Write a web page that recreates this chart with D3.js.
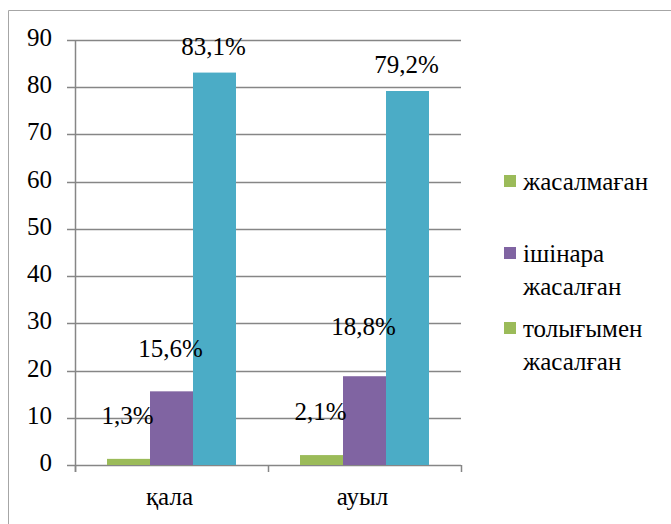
<!DOCTYPE html>
<html>
<head>
<meta charset="utf-8">
<script src="https://cdn.jsdelivr.net/npm/d3@7"></script>
</head>
<body style="margin:0;background:#fff">
<svg id="chart" width="671" height="524" style="display:block"></svg>
<script>
// ---- data ----
const categories = ["қала", "ауыл"];
const seriesNames = ["жасалмаған", "ішінара жасалған", "толығымен жасалған"];
const valuesNotDone = [1.3, 2.1];
const valuesPartly = [15.6, 18.8];
const valuesFully = [83.1, 79.2];
const valueLabels = [["1,3%", "2,1%"], ["15,6%", "18,8%"], ["83,1%", "79,2%"]];
const yTicks = [0, 10, 20, 30, 40, 50, 60, 70, 80, 90];
const legendLines = [["жасалмаған"], ["ішінара", "жасалған"], ["толығымен", "жасалған"]];

// ---- styling ----
const FS = 25;
const barColors = ["#9BBB59", "#8064A2", "#4BACC6"];
const legendColors = ["#9BBB59", "#8064A2", "#9BBB59"];
const gridColor = "#868686";
const labelLift = [[35, 35], [34, 41], [18, 18]];

const seriesValues = [valuesNotDone, valuesPartly, valuesFully];

const svg = d3.select("#chart");

// outer frame
svg.append("path")
  .attr("d", "M8.5,524 L8.5,10.5 L671,10.5")
  .attr("fill", "none").attr("stroke", "#a6a6a6").attr("stroke-width", 1);

const plotLeft = 75, plotRight = 461, plotTop = 40, plotBottom = 465;

const y = d3.scaleLinear().domain([0, 90]).range([plotBottom, plotTop]);
const x0 = d3.scaleBand().domain(categories).range([plotLeft, plotRight]).padding(0);
const x1 = d3.scaleBand().domain(d3.range(seriesNames.length))
  .range([32, x0.bandwidth() - 32]).padding(0);

// gridlines
svg.append("g").selectAll("line").data(yTicks).join("line")
  .attr("x1", plotLeft - 8).attr("x2", plotRight)
  .attr("y1", d => Math.round(y(d)) + 0.5).attr("y2", d => Math.round(y(d)) + 0.5)
  .attr("stroke", gridColor).attr("stroke-width", 1.5);

// y-axis line
svg.append("line")
  .attr("x1", plotLeft + 0.5).attr("x2", plotLeft + 0.5)
  .attr("y1", plotTop).attr("y2", plotBottom + 7)
  .attr("stroke", gridColor).attr("stroke-width", 1.5);

// x-axis category ticks
const xTickPos = categories.map(c => x0(c)).concat([x0(categories[categories.length - 1]) + x0.bandwidth()]);
svg.append("g").selectAll("line").data(xTickPos).join("line")
  .attr("x1", d => Math.round(d) + 0.5).attr("x2", d => Math.round(d) + 0.5)
  .attr("y1", plotBottom).attr("y2", plotBottom + 7)
  .attr("stroke", gridColor).attr("stroke-width", 1.5);

function styleText(sel) {
  return sel
    .style("font-family", '"Liberation Serif"', "important")
    .style("font-size", FS + "px", "important")
    .attr("fill", "#000");
}

// y tick labels
styleText(svg.append("g").selectAll("text").data(yTicks).join("text")
  .attr("x", 52).attr("y", d => y(d) + 6)
  .attr("text-anchor", "end")
  .text(d => d));

// x category labels
styleText(svg.append("g").selectAll("text").data(categories).join("text")
  .attr("x", d => x0(d) + x0.bandwidth() / 2 - 2).attr("y", 505)
  .attr("text-anchor", "middle")
  .text(d => d));

// bars
const barData = [];
seriesValues.forEach((vals, s) => vals.forEach((v, c) => barData.push({ s, c, v })));

svg.append("g").selectAll("rect").data(barData).join("rect")
  .attr("x", d => x0(categories[d.c]) + x1(d.s))
  .attr("width", x1.bandwidth())
  .attr("y", d => y(d.v))
  .attr("height", d => y(0) - y(d.v))
  .attr("fill", d => barColors[d.s]);

// value labels
styleText(svg.append("g").selectAll("text").data(barData).join("text")
  .attr("x", d => x0(categories[d.c]) + x1(d.s) + x1.bandwidth() / 2 - 1)
  .attr("y", d => y(d.v) - labelLift[d.s][d.c])
  .attr("text-anchor", "middle")
  .text(d => valueLabels[d.s][d.c]));

// legend
const legendBaselines = [190, 262, 337];
const lg = svg.append("g").selectAll("g").data(legendLines).join("g");
lg.append("rect")
  .attr("x", 504).attr("y", (d, i) => legendBaselines[i] - 15)
  .attr("width", 12).attr("height", 12)
  .attr("fill", (d, i) => legendColors[i]);
styleText(lg.append("text")
  .attr("x", 523).attr("y", (d, i) => legendBaselines[i]))
  .selectAll("tspan").data(d => d).join("tspan")
  .attr("x", 523).attr("dy", (d, j) => j === 0 ? 0 : 33)
  .text(d => d);
</script>
</body>
</html>
